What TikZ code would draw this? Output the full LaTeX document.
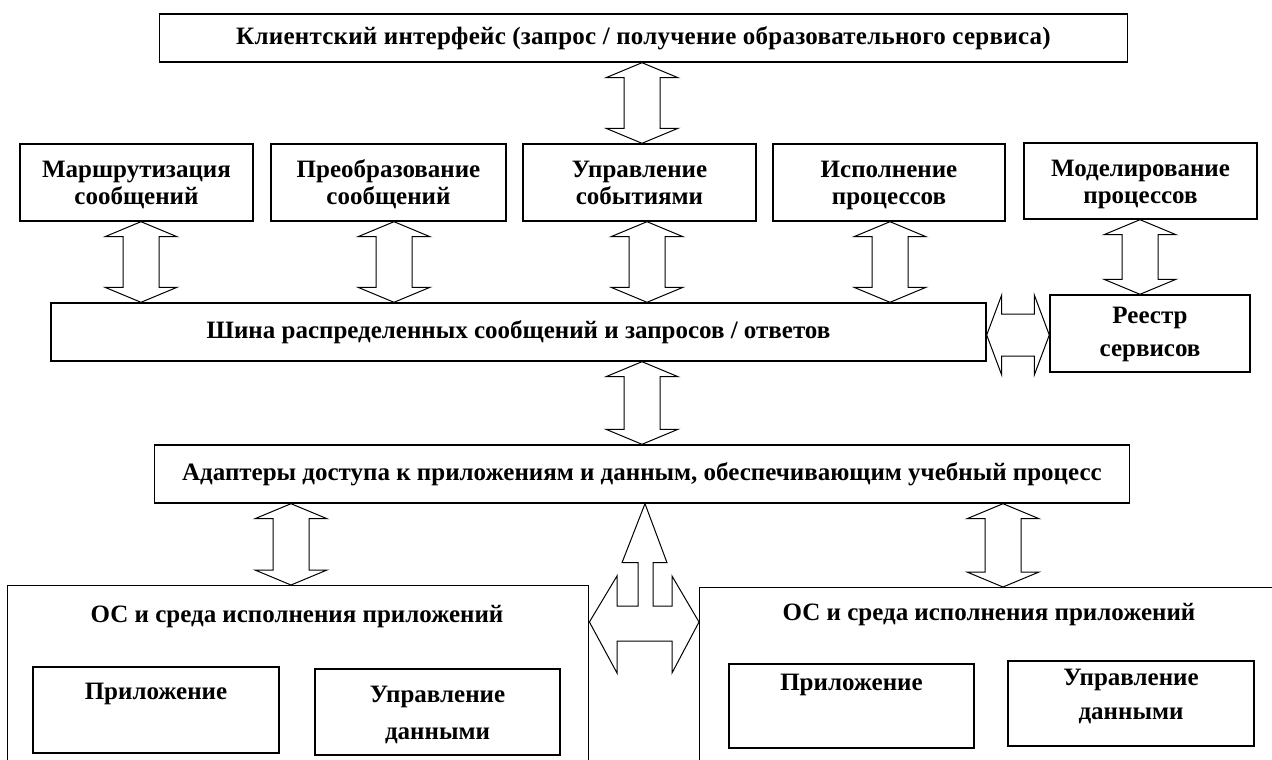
\documentclass[tikz,border=0pt]{standalone}
\usepackage{fontspec}
\setmainfont{Liberation Serif}
\newfontfamily\spacedserif[LetterSpace=1]{Liberation Serif}
\usetikzlibrary{calc}

% vertical two-headed block arrow between #1 (above) and #2 (below), axis at x=#3
\newcommand\vbiarrow[3]{%
  \draw[blockarrow] let \p1=(#1.south), \p2=(#2.north) in
    (#3pt,\y1) -- (#3pt+36pt,\y1-15pt) -- (#3pt+18pt,\y1-15pt)
    -- (#3pt+18pt,\y2+15pt) -- (#3pt+36pt,\y2+15pt) -- (#3pt,\y2)
    -- (#3pt-36pt,\y2+15pt) -- (#3pt-18pt,\y2+15pt)
    -- (#3pt-18pt,\y1-15pt) -- (#3pt-36pt,\y1-15pt) -- cycle;}
% fixed height above the first baseline of a caption
\newcommand\capline{\rule{0pt}{18pt}}

\begin{document}
\begin{tikzpicture}[x=1pt,y=-1pt,
  box/.style={draw, line width=1.4pt, inner sep=0pt, align=center,
    font=\bfseries\fontsize{25}{29}\selectfont},
  frame/.style={draw, line width=1.4pt, inner sep=0pt},
  plain/.style={inner sep=0pt, align=center, font=\bfseries\fontsize{25}{29}\selectfont},
  % caption hung from the top edge of a frame; #1 = line spacing
  caption/.style={inner sep=0pt, align=center, anchor=north,
    font=\bfseries\fontsize{25}{#1}\selectfont},
  blockarrow/.style={draw, line width=1pt, fill=white, line join=miter},
]
\useasboundingbox (0,0) rectangle (1272,760);
\fill[white] (0,0) rectangle (1272,760);
\begin{scope}
\clip (0,0) rectangle (1272,760);

% client layer
\node[box, minimum width=968, minimum height=48,
  font=\spacedserif\bfseries\fontsize{25}{29}\selectfont] (client) at (643.5,38)
  {Клиентский интерфейс (запрос / получение образовательного сервиса)};

% service components
\node[frame, minimum width=233, minimum height=77] (r1) at (136.5,182.5) {};
\node[frame, minimum width=235, minimum height=77] (r2) at (388.5,182.5) {};
\node[frame, minimum width=233, minimum height=77] (r3) at (639.5,182.5) {};
\node[frame, minimum width=232, minimum height=77] (r4) at (889,182.5) {};
\node[frame, minimum width=233, minimum height=76] (r5) at (1140.5,181) {};
\node[caption=27] (r1t) at ([yshift=-16pt]r1.north) {\capline Маршрутизация\\сообщений};
\node[caption=27] (r2t) at ([yshift=-16pt]r2.north) {\capline Преобразование\\сообщений};
\node[caption=27] (r3t) at ([yshift=-16pt]r3.north) {\capline Управление\\событиями};
\node[caption=27] (r4t) at ([yshift=-16pt]r4.north) {\capline Исполнение\\процессов};
\node[caption=27] (r5t) at ([yshift=-16pt]r5.north) {\capline Моделирование\\процессов};

% bus and registry
\node[box, minimum width=935, minimum height=58] (shina) at (518.5,332)
  {Шина распределенных сообщений и запросов / ответов};
\node[frame, minimum width=200, minimum height=77] (registry) at (1150,333.5) {};
\node[caption=33] (registryt) at ([yshift=-11pt]registry.north) {\capline Реестр\\сервисов};

% adapters
\node[box, minimum width=975, minimum height=58] (adapt) at (642,474)
  {Адаптеры доступа к приложениям и данным, обеспечивающим учебный процесс};

% runtime environments
\node[frame, anchor=north west, minimum width=581, minimum height=260] (osL) at (7,585) {};
\node[frame, anchor=north west, minimum width=620, minimum height=260] (osR) at (699,587) {};
\node[plain] (osLt) at (297,617) {ОС и среда исполнения приложений};
\node[plain] (osRt) at (989,615) {ОС и среда исполнения приложений};

\node[frame, minimum width=246, minimum height=86] (appL) at (156,710) {};
\node[frame, minimum width=245, minimum height=86] (dataL) at (437.5,712) {};
\node[frame, minimum width=245, minimum height=84] (appR) at (851.5,706) {};
\node[frame, minimum width=246, minimum height=85] (dataR) at (1131,703.5) {};
\node[caption=36] (appLt) at ([yshift=-15pt]appL.north) {\capline Приложение};
\node[caption=37] (dataLt) at ([yshift=-16pt]dataL.north) {\capline Управление\\данными};
\node[caption=36] (appRt) at ([yshift=-9pt]appR.north) {\capline Приложение};
\node[caption=34] (dataRt) at ([yshift=-7pt]dataR.north) {\capline Управление\\данными};

% connectors
\vbiarrow{client}{r3}{642}
\vbiarrow{r1}{shina}{141}
\vbiarrow{r2}{shina}{394}
\vbiarrow{r3}{shina}{647}
\vbiarrow{r4}{shina}{890}
\vbiarrow{r5}{registry}{1140}
\vbiarrow{shina}{adapt}{642}
\vbiarrow{adapt}{osL}{291}
\vbiarrow{adapt}{osR}{1003}

% bus <-> registry
\draw[blockarrow] let \p1=(shina.east), \p2=(registry.west) in
  (\x1,-335pt) -- ++(15pt,40pt) -- ++(0,-19pt) -- (\x2-15pt,-314pt)
  -- ++(0,19pt) -- (\x2,-335pt) -- ++(-15pt,-40pt) -- ++(0,19pt)
  -- (\x1+15pt,-356pt) -- ++(0,-19pt) -- cycle;

% three-way arrow: adapters / left environment / right environment
\draw[blockarrow] let \p1=(adapt.south), \p2=(osL.east), \p3=(osR.west) in
  (645pt,\y1) -- (667pt,\y1-59pt) -- (653pt,\y1-59pt) -- (653pt,-606pt)
  -- (672pt,-606pt) -- (672pt,-576pt) -- (\x3,-622pt) -- (672pt,-673pt)
  -- (672pt,-641pt) -- (617pt,-641pt) -- (617pt,-673pt) -- (\x2,-622pt)
  -- (617pt,-576pt) -- (617pt,-606pt) -- (638pt,-606pt) -- (638pt,\y1-59pt)
  -- (622pt,\y1-59pt) -- cycle;
\end{scope}
\end{tikzpicture}
\end{document}
